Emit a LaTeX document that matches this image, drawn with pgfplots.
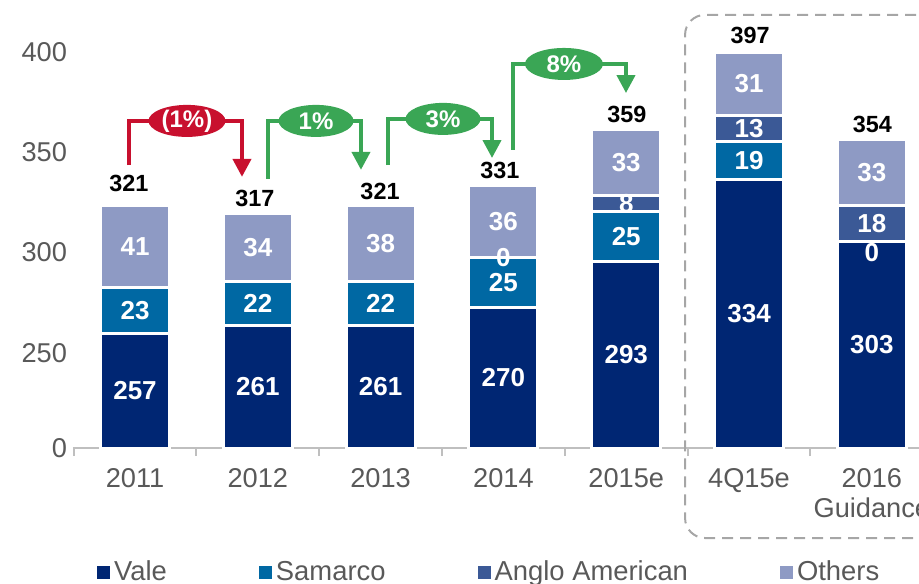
\documentclass[border=0pt]{standalone}
\usepackage{pgfplots}
\pgfplotsset{compat=1.18}
\usepackage{pgfplotstable}
\usepackage{fontspec}
\setmainfont{Liberation Sans}
\usetikzlibrary{arrows.meta,shapes.geometric}
\definecolor{vale}{HTML}{002673}
\definecolor{samarco}{HTML}{0068A3}
\definecolor{anglo}{HTML}{3B5996}
\definecolor{others}{HTML}{8E9AC4}
\definecolor{redc}{HTML}{C8102E}
\definecolor{greenc}{HTML}{3AA655}
\definecolor{axgray}{HTML}{BFBFBF}
\definecolor{txgray}{HTML}{595959}
\definecolor{boxgray}{HTML}{A6A6A6}

\pgfplotstableread{
x vale samarco anglo others
0 257 23 0 41
1 261 22 0 34
2 261 22 0 38
3 270 25 0 36
4 293 25 8 33
5 334 19 13 31
6 303 0 18 33
}\datatable

\pgfplotstableread{
x y lab
0 228.5 257
0 268.5 23
0 300.5 41
1 230.5 261
1 272 22
1 300 34
2 230.5 261
2 272 22
2 302 38
3 235 270
3 282.5 25
3 295 0
3 313 36
4 246.5 293
4 305.5 25
4 322 8
4 342.5 33
5 267 334
5 343.5 19
5 359.5 13
5 381.5 31
6 251.5 303
6 297.5 0
6 312 18
6 337.5 33
}\seglabels

\pgfplotstableread{
x y lab
-0.05 331.9 321
0.977 324.2 317
1.995 327.9 321
2.972 338.2 331
4.006 366.1 359
5.008 405.5 397
6.004 361.1 354
}\totlabels

\pgfplotsset{commonaxis/.style={scale only axis, width=423pt, height=224pt,
  xmin=-0.505, xmax=6.384, ymin=200, ymax=423.4, at={(0,0)}, anchor=south west}}

\begin{document}
\begin{tikzpicture}
\begin{axis}[commonaxis, ybar stacked, bar width=34.5pt,
  axis x line*=bottom, axis y line*=left,
  y axis line style={draw=none},
  x axis line style={draw=axgray, line width=1pt},
  /pgf/number format/assume math mode=true,
  xtick={0,...,6},
  xticklabels={2011,2012,2013,2014,2015e,4Q15e,{2016\\Guidance}},
  xticklabel style={align=center, font=\fontsize{13.6}{15}\selectfont, text=txgray, anchor=north, yshift=-6.5pt},
  xtick style={draw=none},
  extra x ticks={-0.5,0.5,1.5,2.5,3.5,4.5,5.5},
  extra x tick labels={},
  extra x tick style={xtick style={draw=axgray, line width=1pt}, major tick length=4pt, tick align=outside},
  ytick={250,300,350,400},
  ytick style={draw=none},
  yticklabel style={font=\fontsize{13.6}{15}\selectfont, text=txgray, yshift=-2.5pt, xshift=0.5pt},
  extra y ticks={200}, extra y tick labels={0},
  extra y tick style={yticklabel style={yshift=2.5pt}, ytick style={draw=none}},
  legend style={at={(rel axis cs:0.021,-0.277)}, anchor=west, draw=none, fill=none,
    legend columns=4, font=\fontsize{13.7}{16}\selectfont, text=txgray,
    /tikz/every even column/.append style={column sep=44pt},
    /tikz/column 6/.append style={column sep=39pt}},
  legend cell align=left,
]
\addplot[fill=vale, draw=white, line width=1.5pt,
  legend image code/.code={\fill[vale] (0pt,-2.5pt) rectangle (5pt,2.5pt);}]
  table[x=x, y=vale]{\datatable};
\addlegendentry{Vale}
\addplot[fill=samarco, draw=white, line width=1.5pt,
  legend image code/.code={\fill[samarco] (0pt,-2.5pt) rectangle (5pt,2.5pt);}]
  table[x=x, y=samarco]{\datatable};
\addlegendentry{Samarco}
\addplot[fill=anglo, draw=white, line width=1.5pt,
  legend image code/.code={\fill[anglo] (0pt,-2.5pt) rectangle (5pt,2.5pt);}]
  table[x=x, y=anglo]{\datatable};
\addlegendentry{Anglo American}
\addplot[fill=others, draw=white, line width=1.5pt,
  legend image code/.code={\fill[others] (0pt,-2.5pt) rectangle (5pt,2.5pt);}]
  table[x=x, y=others]{\datatable};
\addlegendentry{Others}
\end{axis}

\begin{axis}[commonaxis, hide axis, clip=false]
\addplot[draw=none, mark=none, nodes near coords, point meta=explicit symbolic,
  every node near coord/.append style={anchor=center, text=white, font=\bfseries\fontsize{13}{14}\selectfont}]
  table[x=x, y=y, meta=lab]{\seglabels};
\addplot[draw=none, mark=none, nodes near coords, point meta=explicit symbolic,
  every node near coord/.append style={anchor=center, text=black, font=\bfseries\fontsize{11.7}{13}\selectfont}]
  table[x=x, y=y, meta=lab]{\totlabels};

% change arrows
\draw[redc, line width=2pt, -{Triangle[width=9pt,length=9pt]}]
  (axis cs:-0.049,341.1) |- (axis cs:0.871,363.1) -- (axis cs:0.871,335.2);
\node[ellipse, fill=redc, minimum width=38.5pt, minimum height=16pt, inner sep=0pt,
  text=white, font=\bfseries\fontsize{12}{14}\selectfont] at (axis cs:0.423,363.1) {(1\%)};

\draw[greenc, line width=2pt, -{Triangle[width=9pt,length=9pt]}]
  (axis cs:1.083,334.2) |- (axis cs:1.840,363.1) -- (axis cs:1.840,338.7);
\node[ellipse, fill=greenc, minimum width=37.5pt, minimum height=16pt, inner sep=0pt,
  text=white, font=\bfseries\fontsize{12}{14}\selectfont] at (axis cs:1.474,363.1) {1\%};

\draw[greenc, line width=2pt, -{Triangle[width=9pt,length=9pt]}]
  (axis cs:2.060,341.1) |- (axis cs:2.907,364.1) -- (axis cs:2.907,344.6);
\node[ellipse, fill=greenc, minimum width=37.5pt, minimum height=16pt, inner sep=0pt,
  text=white, font=\bfseries\fontsize{12}{14}\selectfont] at (axis cs:2.508,364.1) {3\%};

\draw[greenc, line width=2pt, -{Triangle[width=9pt,length=9pt]}]
  (axis cs:3.078,348.6) |- (axis cs:3.998,391.5) -- (axis cs:3.998,377.0);
\node[ellipse, fill=greenc, minimum width=39pt, minimum height=16pt, inner sep=0pt,
  text=white, font=\bfseries\fontsize{12}{14}\selectfont] at (axis cs:3.493,391.5) {8\%};

% dashed frame around the outlook
\draw[boxgray, line width=1pt, dash pattern=on 5.5pt off 3.5pt, rounded corners=10pt]
  (axis cs:6.8,416) -| (axis cs:4.479,155.1) -- (axis cs:6.8,155.1);
\end{axis}
\pgfresetboundingbox
\useasboundingbox (-36.5pt,-67.5pt) rectangle (423pt,224pt);
\end{tikzpicture}
\end{document}
